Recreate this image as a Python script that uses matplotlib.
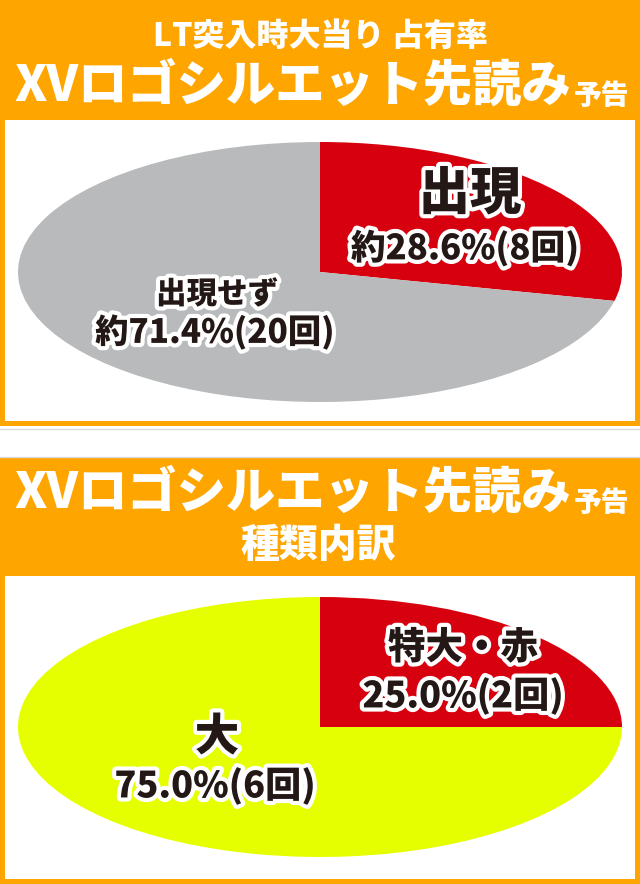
import matplotlib
matplotlib.use("Agg")
import matplotlib.pyplot as plt
import matplotlib.patches as mpatches
import matplotlib.patheffects as pe

plt.rcParams['font.family'] = ['Noto Sans CJK JP', 'DejaVu Sans']

# ---- data ----
title1_line1 = "LT突入時大当り 占有率"
title_main = "XVロゴシルエット先読み"
title_small = "予告"
title2_line2 = "種類内訳"

pie1_labels = ["出現", "出現せず"]
pie1_values = [8, 20]
pie1_pct = ["約28.6%(8回)", "約71.4%(20回)"]
pie1_colors = ["#d7000f", "#b9babc"]

pie2_labels = ["特大・赤", "大"]
pie2_values = [2, 6]
pie2_pct = ["25.0%(2回)", "75.0%(6回)"]
pie2_colors = ["#d7000f", "#e6ff00"]

W, H = 640, 884
ORANGE = "#ffa500"
TXT = "#231815"
WEIGHT = "heavy"

fig = plt.figure(figsize=(W / 100, H / 100), dpi=100)
fig.patch.set_facecolor("white")

bg = fig.add_axes([0, 0, 1, 1])
bg.set_xlim(0, W)
bg.set_ylim(H, 0)
bg.axis("off")

# panel 1
bg.add_patch(mpatches.Rectangle((0, 0), W, 426, color=ORANGE, lw=0))
bg.add_patch(mpatches.Rectangle((5, 120), W - 10, 301, color="white", lw=0))
bg.plot([0, W], [428.5, 428.5], color="#d8d8d8", lw=1)
bg.plot([0, W], [456.5, 456.5], color="#d8d8d8", lw=1)
# panel 2
bg.add_patch(mpatches.Rectangle((0, 457), W, H - 457, color=ORANGE, lw=0))
bg.add_patch(mpatches.Rectangle((5, 576), W - 10, 303, color="white", lw=0))


def make_pie(cx, cy, a, b, values, colors):
    ax = fig.add_axes([(cx - a) / W, (H - (cy + b)) / H, 2 * a / W, 2 * b / H])
    ax.pie(values, colors=colors, startangle=90, counterclock=False,
           radius=1, wedgeprops=dict(linewidth=0))
    ax.set_aspect("auto")
    ax.set_xlim(-1, 1)
    ax.set_ylim(-1, 1)
    ax.axis("off")
    return ax


make_pie(320, 272, 302, 130, pie1_values, pie1_colors)
make_pie(320, 727, 302, 130, pie2_values, pie2_colors)

ov = fig.add_axes([0, 0, 1, 1])
ov.set_xlim(0, W)
ov.set_ylim(H, 0)
ov.axis("off")
ov.patch.set_alpha(0)

# headers
ov.text(320, 36, title1_line1, color="white", fontsize=23, fontweight=WEIGHT,
        ha="center", va="center")
ov.text(571, 86, title_main, color="white", fontsize=35.5, fontweight=WEIGHT,
        ha="right", va="center")
ov.text(574, 96, title_small, color="white", fontsize=20, fontweight=WEIGHT,
        ha="left", va="center")

ov.text(571, 493, title_main, color="white", fontsize=35.5, fontweight=WEIGHT,
        ha="right", va="center")
ov.text(574, 503, title_small, color="white", fontsize=20, fontweight=WEIGHT,
        ha="left", va="center")
ov.text(318, 545, title2_line2, color="white", fontsize=28, fontweight=WEIGHT,
        ha="center", va="center")

stroke = [pe.withStroke(linewidth=6, foreground="white")]


def label(x, y, s, size):
    ov.text(x, y, s, color=TXT, fontsize=size, fontweight=WEIGHT,
            ha="center", va="center", path_effects=stroke)


label(470, 194, pie1_labels[0], 37)
label(465, 248, pie1_pct[0], 25)
label(217, 294, pie1_labels[1], 22)
label(215, 332, pie1_pct[1], 24)

label(463, 648, pie2_labels[0], 27)
label(463, 696, pie2_pct[0], 26)
label(217, 737, pie2_labels[1], 32)
label(215, 786, pie2_pct[1], 26)

fig.savefig("out.png", dpi=100, facecolor="white")
